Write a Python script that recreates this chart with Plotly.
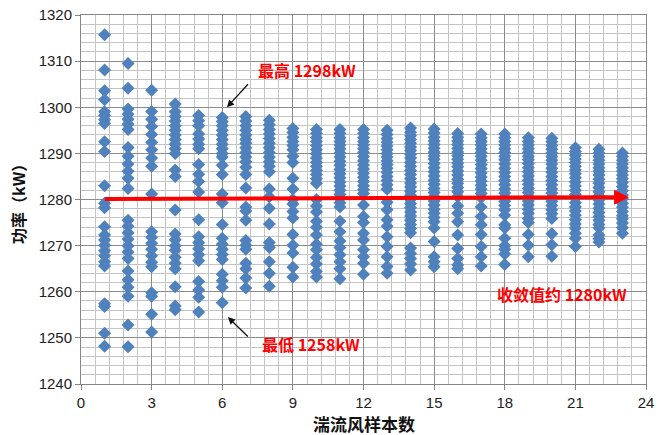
import plotly.graph_objects as go

# ---------------- data ----------------
sample_counts = list(range(1, 24))

power_01 = [1315.7, 1308.1, 1303.6, 1301.6, 1299.0, 1298.2, 1297.3, 1296.5, 1292.5, 1290.4,
            1283.0, 1279.2, 1278.2, 1274.1, 1272.3, 1271.2, 1270.1, 1268.9, 1267.8, 1266.5,
            1265.6, 1257.4, 1256.8, 1251.0, 1248.2]
power_02 = [1309.5, 1304.1, 1299.6, 1298.5, 1297.4, 1296.3, 1295.2, 1291.3, 1289.4, 1287.7,
            1286.1, 1284.6, 1282.4, 1275.5, 1274.2, 1272.8, 1271.4, 1270.0, 1268.6, 1267.2,
            1264.5, 1262.6, 1261.0, 1259.0, 1252.8, 1248.1]
power_03 = [1303.7, 1299.1, 1297.4, 1295.8, 1294.1, 1292.4, 1290.8, 1289.0, 1287.2, 1281.2,
            1273.0, 1271.8, 1270.5, 1269.2, 1267.8, 1266.4, 1265.4, 1259.8, 1259.0, 1255.1,
            1251.3]
power_04 = [1300.7, 1299.0, 1298.0, 1297.0, 1296.0, 1295.0, 1294.0, 1293.0, 1292.0, 1291.0,
            1290.0, 1286.4, 1285.0, 1277.7, 1272.5, 1271.3, 1270.0, 1269.0, 1267.5, 1266.2,
            1265.0, 1261.1, 1256.9, 1256.1]
power_05 = [1298.2, 1297.1, 1296.0, 1294.2, 1293.1, 1292.0, 1291.0, 1287.6, 1285.5, 1283.9,
            1281.6, 1275.6, 1271.9, 1270.6, 1269.3, 1268.0, 1266.7, 1262.2, 1260.4, 1258.8,
            1255.6]
power_06 = [1297.8, 1296.9, 1296.0, 1295.0, 1294.0, 1293.0, 1292.0, 1291.0, 1290.0, 1289.2,
            1287.4, 1285.4, 1281.2, 1279.3, 1274.6, 1271.6, 1270.3, 1269.2, 1268.1, 1267.0,
            1263.8, 1262.4, 1261.0, 1257.6]
power_07 = [1298.0, 1297.0, 1296.0, 1295.0, 1294.0, 1293.0, 1292.2, 1291.2, 1290.2, 1289.2,
            1288.2, 1287.0, 1285.4, 1282.5, 1278.4, 1277.5, 1275.5, 1271.1, 1270.1, 1269.2,
            1266.2, 1265.0, 1263.0, 1260.8]
power_08 = [1297.2, 1296.2, 1295.2, 1294.2, 1293.2, 1292.2, 1291.2, 1290.2, 1289.2, 1288.2,
            1287.2, 1286.0, 1282.3, 1280.6, 1278.1, 1274.7, 1270.7, 1269.6, 1266.5, 1264.0,
            1261.2]
power_09 = [1295.4, 1294.5, 1293.5, 1292.6, 1291.7, 1290.8, 1289.4, 1288.0, 1284.6, 1282.3,
            1280.0, 1279.0, 1277.4, 1276.0, 1272.4, 1270.1, 1268.4, 1265.3, 1263.2]
power_10 = [1295.2, 1294.3, 1293.4, 1292.6, 1291.7, 1290.8, 1289.9, 1289.0, 1288.1, 1287.2,
            1286.3, 1285.4, 1284.5, 1283.5, 1280.0, 1278.6, 1277.3, 1275.3, 1274.0, 1272.3,
            1270.3, 1269.1, 1267.4, 1266.0, 1264.4, 1263.2]
power_11 = [1295.2, 1294.3, 1293.4, 1292.6, 1291.8, 1291.0, 1290.1, 1289.2, 1288.3, 1287.4,
            1286.5, 1285.6, 1284.7, 1283.8, 1282.9, 1282.0, 1281.1, 1280.2, 1279.3, 1278.4,
            1275.3, 1273.0, 1271.0, 1269.6, 1268.0, 1266.5, 1265.0, 1262.8]
power_12 = [1295.2, 1294.3, 1293.4, 1292.6, 1291.8, 1291.0, 1290.2, 1289.3, 1288.4, 1287.5,
            1286.6, 1285.7, 1284.8, 1283.9, 1283.0, 1282.1, 1281.3, 1278.8, 1276.3, 1275.0,
            1272.7, 1271.2, 1269.1, 1267.6, 1266.2, 1263.8]
power_13 = [1295.0, 1294.1, 1293.2, 1292.4, 1291.6, 1290.8, 1290.0, 1289.2, 1288.4, 1287.6,
            1286.8, 1285.9, 1285.0, 1284.1, 1283.2, 1282.2, 1279.4, 1277.8, 1275.6, 1274.2,
            1271.9, 1269.8, 1267.6, 1265.5, 1264.0]
power_14 = [1295.5, 1294.6, 1293.8, 1293.0, 1292.2, 1291.4, 1290.6, 1289.8, 1289.0, 1288.1,
            1287.2, 1286.3, 1285.4, 1284.5, 1283.6, 1282.7, 1281.8, 1280.9, 1280.0, 1279.1,
            1278.2, 1277.3, 1276.4, 1275.5, 1274.6, 1273.7, 1272.8, 1269.5, 1268.3, 1267.2,
            1266.0, 1264.7]
power_15 = [1295.3, 1294.4, 1293.5, 1292.7, 1291.9, 1291.1, 1290.3, 1289.5, 1288.7, 1287.8,
            1286.9, 1286.0, 1285.1, 1284.2, 1283.3, 1282.4, 1281.5, 1280.6, 1279.7, 1278.8,
            1277.9, 1277.0, 1276.1, 1275.2, 1273.8, 1270.9, 1267.6, 1266.5, 1265.4]
power_16 = [1294.3, 1293.5, 1292.7, 1291.9, 1291.1, 1290.3, 1289.5, 1288.7, 1287.9, 1287.1,
            1286.2, 1285.3, 1284.4, 1283.5, 1282.6, 1281.7, 1280.6, 1278.6, 1277.0, 1275.2,
            1272.3, 1269.4, 1267.2, 1265.8, 1265.0]
power_17 = [1294.2, 1293.4, 1292.6, 1291.8, 1291.0, 1290.2, 1289.4, 1288.5, 1287.6, 1286.7,
            1285.8, 1284.9, 1284.0, 1283.1, 1282.2, 1281.3, 1280.4, 1278.4, 1276.3, 1274.5,
            1272.4, 1269.8, 1267.6, 1265.6]
power_18 = [1294.2, 1293.4, 1292.6, 1291.8, 1291.0, 1290.2, 1289.4, 1288.6, 1287.7, 1286.8,
            1285.9, 1285.0, 1284.1, 1283.2, 1282.3, 1281.4, 1280.5, 1279.6, 1278.7, 1277.8,
            1276.6, 1274.5, 1273.8, 1271.6, 1270.0, 1269.2, 1268.2, 1265.9]
power_19 = [1293.4, 1292.6, 1291.8, 1291.0, 1290.2, 1289.4, 1288.6, 1287.8, 1286.9, 1286.0,
            1285.1, 1284.2, 1283.3, 1282.4, 1281.5, 1280.6, 1279.7, 1278.8, 1277.9, 1277.0,
            1275.9, 1275.0, 1272.4, 1270.1, 1267.6]
power_20 = [1293.3, 1292.5, 1291.7, 1290.9, 1290.1, 1289.3, 1288.5, 1287.7, 1286.8, 1285.9,
            1285.0, 1284.1, 1283.2, 1282.3, 1281.4, 1280.5, 1279.6, 1278.7, 1277.8, 1276.9,
            1275.9, 1272.6, 1270.2, 1267.7]
power_21 = [1291.2, 1290.4, 1289.6, 1288.8, 1288.0, 1287.2, 1286.4, 1285.6, 1284.7, 1283.8,
            1282.9, 1282.0, 1281.1, 1280.2, 1279.3, 1278.4, 1277.5, 1276.6, 1275.6, 1274.7,
            1273.8, 1272.7, 1271.6, 1269.8]
power_22 = [1290.9, 1290.1, 1289.3, 1288.5, 1287.7, 1286.9, 1286.1, 1285.3, 1284.4, 1283.5,
            1282.6, 1281.7, 1280.8, 1279.9, 1279.0, 1278.1, 1277.2, 1276.3, 1275.5, 1274.6,
            1273.8, 1272.3, 1271.5, 1270.8]
power_23 = [1290.1, 1289.3, 1288.5, 1287.7, 1286.9, 1286.1, 1285.3, 1284.5, 1283.7, 1282.8,
            1281.9, 1281.0, 1280.1, 1279.2, 1278.3, 1277.4, 1276.5, 1275.8, 1274.9, 1273.9,
            1272.7]

columns = [power_01, power_02, power_03, power_04, power_05, power_06, power_07, power_08,
           power_09, power_10, power_11, power_12, power_13, power_14, power_15, power_16,
           power_17, power_18, power_19, power_20, power_21, power_22, power_23]

# convergence arrow (start / end) and annotation values
converge_x = [0.95, 23.28]
converge_y = [1280.1, 1280.5]
max_value = 1298
min_value = 1258
converge_value = 1280

x_ticks = [0, 3, 6, 9, 12, 15, 18, 21, 24]
y_ticks = [1240, 1250, 1260, 1270, 1280, 1290, 1300, 1310, 1320]

# ---------------- build ----------------
xs, ys = [], []
for n, vals in zip(sample_counts, columns):
    xs.extend([n] * len(vals))
    ys.extend(vals)

fig = go.Figure()
fig.add_trace(go.Scatter(
    x=xs, y=ys, mode="markers",
    marker=dict(symbol="diamond", size=10, color="#4F81BD", line=dict(width=0)),
    showlegend=False, hoverinfo="x+y",
))

tick_font = dict(family="Liberation Sans, Arial, sans-serif", size=15, color="#222222")
cjk = "Noto Sans CJK SC"
red = "#FF0000"

annotations = [
    dict(x=converge_x[1], y=converge_y[1], ax=converge_x[0], ay=converge_y[0],
         xref="x", yref="y", axref="x", ayref="y", text="", showarrow=True,
         arrowhead=2, arrowsize=0.75, arrowwidth=4, arrowcolor=red),
    dict(x=6.2, y=1300.0, ax=7.15, ay=1305.3, xref="x", yref="y", axref="x", ayref="y",
         text="", showarrow=True, arrowhead=2, arrowsize=1.1, arrowwidth=1.3,
         arrowcolor="#111111"),
    dict(x=6.24, y=1254.5, ax=7.15, ay=1250.0, xref="x", yref="y", axref="x", ayref="y",
         text="", showarrow=True, arrowhead=2, arrowsize=1.1, arrowwidth=1.3,
         arrowcolor="#111111"),
    dict(x=7.45, y=1308.0, xref="x", yref="y", xanchor="left", yanchor="middle",
         showarrow=False, text=f"<b>最高 {max_value}kW</b>",
         font=dict(family=cjk, size=16, color=red)),
    dict(x=7.62, y=1248.7, xref="x", yref="y", xanchor="left", yanchor="middle",
         showarrow=False, text=f"<b>最低 {min_value}kW</b>",
         font=dict(family=cjk, size=16, color=red)),
    dict(x=17.6, y=1259.6, xref="x", yref="y", xanchor="left", yanchor="middle",
         showarrow=False, text=f"<b>收敛值约 {converge_value}kW</b>",
         font=dict(family=cjk, size=16, color=red)),
    # axis titles
    dict(x=0.501, y=-0.108, xref="paper", yref="paper", xanchor="center", yanchor="middle",
         showarrow=False, text="<b>湍流风样本数</b>",
         font=dict(family=cjk, size=17, color="#111111")),
    dict(x=-0.1115, y=0.4986, xref="paper", yref="paper", xanchor="center", yanchor="middle",
         showarrow=False, textangle=-90, text="<b>功率（kW）</b>",
         font=dict(family=cjk, size=16, color="#111111")),
]

fig.update_layout(
    width=658, height=435,
    margin=dict(l=81, r=12, t=15, b=51),
    paper_bgcolor="white", plot_bgcolor="white",
    annotations=annotations,
    xaxis=dict(
        range=[0, 24], tickmode="array", tickvals=x_ticks, ticktext=[str(v) for v in x_ticks],
        showgrid=True, gridcolor="#8C8C8C", gridwidth=1,
        minor=dict(dtick=0.6, tick0=0, showgrid=True, gridcolor="#C4C4C4", gridwidth=1),
        showline=True, linecolor="#868686", linewidth=1, mirror=True,
        ticks="outside", ticklen=5, tickcolor="#868686",
        tickfont=tick_font, zeroline=False, automargin=False,
    ),
    yaxis=dict(
        range=[1240, 1320], tickmode="array", tickvals=y_ticks, ticktext=[str(v) for v in y_ticks],
        showgrid=True, gridcolor="#8C8C8C", gridwidth=1,
        minor=dict(dtick=2, tick0=1240, showgrid=True, gridcolor="#C4C4C4", gridwidth=1),
        showline=True, linecolor="#868686", linewidth=1, mirror=True,
        ticks="outside", ticklen=5, tickcolor="#868686",
        tickfont=tick_font, zeroline=False, automargin=False,
    ),
)

fig.write_html("out.html",
               config={"displayModeBar": False},
               post_script="document.body.style.margin='0';document.body.style.overflow='hidden';")
